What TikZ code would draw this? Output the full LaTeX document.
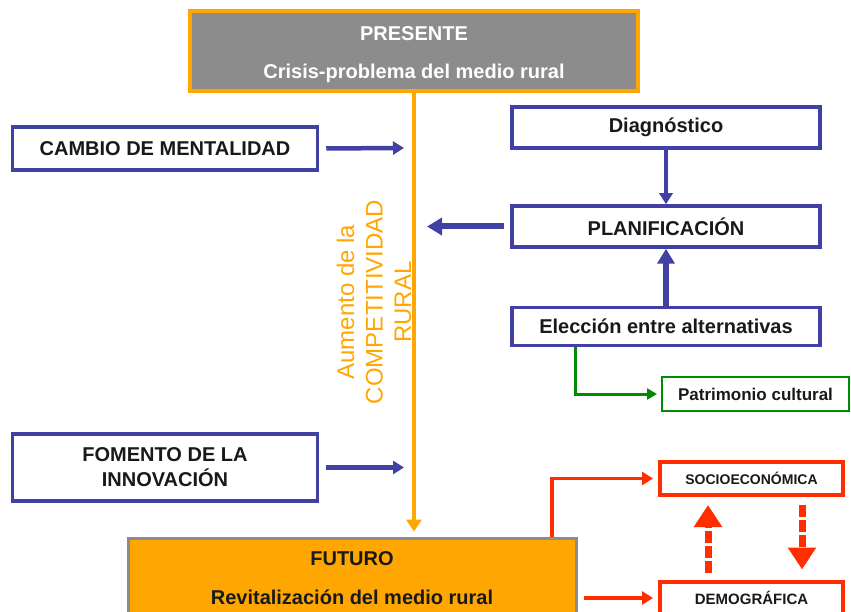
\documentclass[tikz,border=0pt]{standalone}
\usepackage{fontspec}
\setmainfont{Liberation Sans}
\usetikzlibrary{arrows.meta}
\definecolor{azul}{RGB}{64,64,165}
\definecolor{naranja}{RGB}{255,166,0}
\definecolor{gris}{RGB}{140,140,140}
\definecolor{rojo}{RGB}{255,45,0}
\definecolor{verde}{RGB}{0,140,0}

\begin{document}
\begin{tikzpicture}[x=1pt, y=-1pt,
	caja/.style={draw=azul, line width=3.5pt, fill=white, inner sep=0pt, align=center, text=black!90, font=\fontsize{20}{25}\selectfont\bfseries},
	cajaroja/.style={draw=rojo, line width=4pt, fill=white, inner sep=0pt, text=black!90, minimum width=183, minimum height=33},
	flecha/.style={draw=azul, line width=4.5pt, -{Triangle[length=11pt,width=13pt]}},
	flechagruesa/.style={draw=azul, line width=6pt, -{Triangle[length=15pt,width=17pt]}},
	flecharoja/.style={draw=rojo, line width=3.5pt, -{Triangle[length=11pt,width=13pt]}},
	flechadash/.style={draw=rojo, line width=7pt, dash pattern=on 12pt off 3pt, -{Triangle[length=22pt,width=27pt]}}]
					%%% Marco
					\useasboundingbox (0,0) rectangle (851,612);
					
					%%% Cajas
					\node[draw=naranja, fill=gris, line width=3.5pt, minimum width=448, minimum height=80, inner sep=0pt, align=center, text=white, font=\fontsize{20}{38}\selectfont\bfseries] (pres) at (414,51) {\rule{0pt}{20.5pt}PRESENTE\\Crisis-problema del medio rural};
					\node[draw=gris, fill=naranja, line width=3pt, minimum width=448, minimum height=81, inner sep=0pt, align=center, text=black!90, font=\fontsize{20}{39}\selectfont\bfseries] (fut) at (352,578.5) {FUTURO\\Revitalización del medio rural};
					\node[caja, minimum width=305, minimum height=43] (cambio) at (165,148.5) {CAMBIO DE MENTALIDAD};
					\node[caja, minimum width=305, minimum height=67] (fom) at (165,467.5) {FOMENTO DE LA\\INNOVACIÓN};
					\node[caja, minimum width=308, minimum height=41] (diag) at (666,127.5) {Diagnóstico};
					\node[caja, minimum width=308, minimum height=41] (plan) at (666,226.5) {PLANIFICACIÓN};
					\node[caja, minimum width=308, minimum height=38] (elec) at (666,326.5) {Elección entre alternativas};
					\node[draw=verde, line width=2pt, minimum width=187, minimum height=34, inner sep=0pt, text=black!90, font=\fontsize{17}{20}\selectfont\bfseries] (patr) at (755.5,394) {Patrimonio cultural};
					\node[cajaroja, font=\fontsize{14}{16}\selectfont\bfseries] (socio) at (751.5,478.5) {SOCIOECONÓMICA};
					\node[cajaroja, font=\fontsize{15}{18}\selectfont\bfseries] (demo) at (751.5,598) {DEMOGRÁFICA};
					
					%%% Eje central
					\draw[draw=naranja, line width=4pt, shorten >=5pt, -{Triangle[length=12pt,width=15pt]}] (pres.south) -- (pres.south |- fut.north);
					\node[rotate=90, align=center, text=naranja, font=\fontsize{24}{28.5}\selectfont] (eje) at (374,302) {Aumento de la\\COMPETITIVIDAD\\RURAL};
					\coordinate (e1) at (404,148);
					\coordinate (e2) at (427,226.5);
					\coordinate (e3) at (404,467.5);
					
					%%% Flechas
					\draw[flecha, shorten <=7pt] (cambio.east) -- (e1);
					\draw[flecha, shorten <=7pt] (fom.east) -- (e3);
					\draw[flechagruesa, shorten <=6pt] (plan.west) -- (e2);
					\draw[flecha] (diag.south) -- (plan.north);
					\draw[flechagruesa] (elec.north) -- (plan.south);
					\draw[draw=verde, line width=3pt, shorten >=4pt, -{Triangle[length=10pt,width=11pt]}] ([xshift=-91pt]elec.south) |- (patr.west);
					\draw[flecharoja, shorten >=5pt] ([xshift=200pt]fut.north) |- (socio.west);
					\draw[flecharoja, shorten <=6pt, shorten >=5pt] (fut.east |- demo.west) -- (demo.west);
					\draw[flechadash, shorten <=7pt, shorten >=8pt] ([xshift=-43.5pt]demo.north) -- ([xshift=-43.5pt]socio.south);
					\draw[flechadash, shorten <=8pt, shorten >=10pt] ([xshift=50.5pt]socio.south) -- ([xshift=50.5pt]demo.north);
\end{tikzpicture}
\end{document}
